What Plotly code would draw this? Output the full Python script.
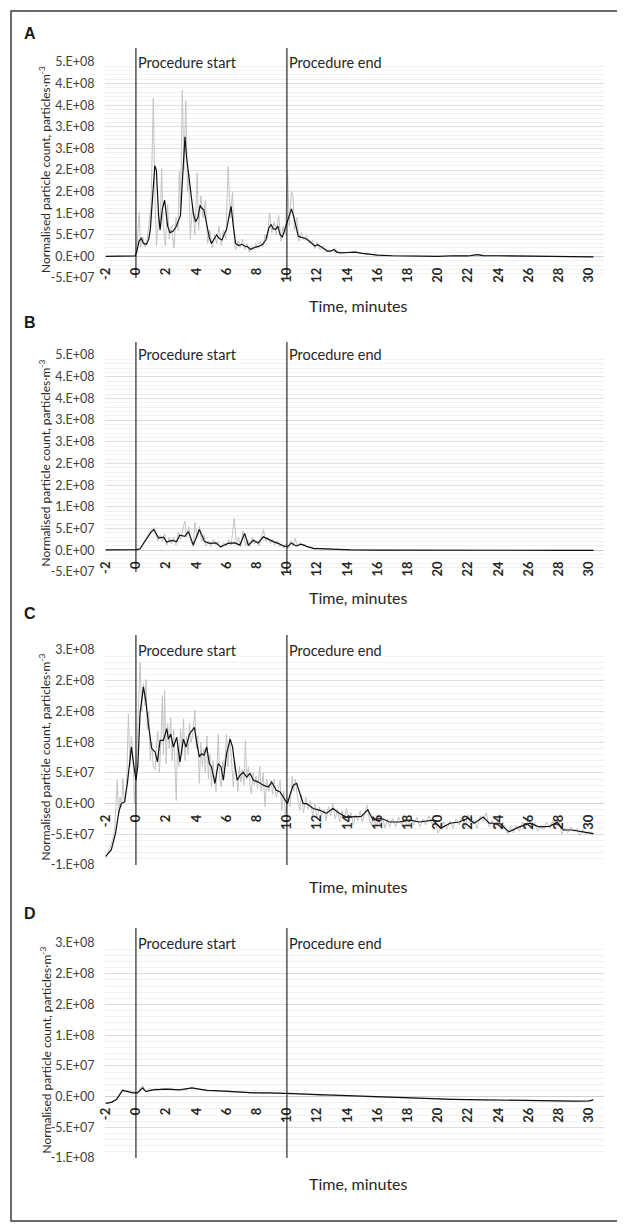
import plotly.graph_objects as go

# ---------------- data (values in millions of particles per m^3) ----------------
x_ticks = list(range(-2, 31, 2))
x_ticklabels = [str(v) for v in x_ticks]

y_ticks_ab = [-50, 0, 50, 100, 150, 200, 250, 300, 350, 400, 450]
y_ticklabels_ab = ["-5.E+07", "0.E+00", "5.E+07", "1.E+08", "2.E+08", "2.E+08",
                   "3.E+08", "3.E+08", "4.E+08", "4.E+08", "5.E+08"]
y_ticks_cd = [-100, -50, 0, 50, 100, 150, 200, 250]
y_ticklabels_cd = ["-1.E+08", "-5.E+07", "0.E+00", "5.E+07", "1.E+08", "2.E+08",
                   "2.E+08", "3.E+08"]

procedure_times = [0, 10]
procedure_labels = ["Procedure start", "Procedure end"]
panel_letters = ["A", "B", "C", "D"]

# Panel A raw (grey)
a_raw_t = [-2, -1, -0.05, 0.05, 0.15, 0.22, 0.3, 0.45, 0.6, 0.75, 0.9, 1.0, 1.15, 1.25, 1.36, 1.5, 1.6, 1.7,
           1.8, 1.95, 2.1, 2.2, 2.35, 2.52, 2.65, 2.8, 2.87, 2.95, 3.07, 3.18, 3.3, 3.42, 3.5, 3.6, 3.75,
           3.9, 4.06, 4.15, 4.3, 4.45, 4.6, 4.75, 4.9, 5.05, 5.2, 5.35, 5.5, 5.65, 5.8, 5.95, 6.11, 6.25,
           6.4, 6.5, 6.6, 6.75, 6.9, 7.05, 7.2, 7.35, 7.5, 7.65, 7.8, 7.95, 8.1, 8.25, 8.4, 8.55, 8.7,
           8.85, 9.0, 9.15, 9.3, 9.45, 9.6, 9.75, 9.9, 10.04, 10.15, 10.3, 10.4, 10.5, 10.65, 10.8, 10.95,
           11.1, 11.3, 11.5, 11.7, 11.85, 12.0, 12.2, 12.4, 12.6, 12.8, 13.0, 13.2, 13.4, 13.7, 14.0,
           14.5, 15.0, 15.5, 16, 17, 18, 19, 20, 21, 22, 22.6, 23, 24, 25, 26, 27, 28, 29, 30, 30.3]
a_raw = [0, 0, 0, 15, 60, 102, 20, 45, 22, 40, 85, 120, 366, 150, 24, 90, 60, 203,
         80, 24, 120, 40, 70, 20, 90, 60, 196, 110, 385, 200, 360, 150, 190, 40, 120,
         50, 194, 60, 140, 90, 130, 30, 60, 20, 50, 30, 70, 25, 60, 40, 208, 90,
         150, 40, 15, 35, 20, 40, 15, 30, 10, 25, 15, 30, 18, 35, 22, 50, 40,
         100, 55, 80, 50, 95, 35, 70, 50, 200, 70, 150, 140, 60, 90, 35, 55,
         38, 48, 30, 38, 18, 32, 15, 25, 10, 15, 12, 18, 8, 10, 8,
         11, 7, 5, 3, 1.5, 0.5, 0, 0, 1.5, 1, 4.5, 2, 1.5, 1, 1, 0.5, 0, -0.5, -1, -1]

# Panel A moving average (black)
a_avg_t = [-2, -1, -0.05, 0.05, 0.2, 0.35, 0.5, 0.7, 0.85, 0.95, 1.1, 1.25, 1.35, 1.5, 1.6, 1.75, 1.9,
           2.0, 2.1, 2.25, 2.45, 2.65, 2.8, 2.95, 3.1, 3.25, 3.35, 3.5, 3.65, 3.8, 3.95, 4.1, 4.25,
           4.35, 4.5, 4.65, 4.85, 5.0, 5.15, 5.35, 5.5, 5.7, 5.85, 6.0, 6.15, 6.3, 6.45, 6.6, 6.8,
           7.0, 7.2, 7.4, 7.6, 7.8, 8.0, 8.2, 8.4, 8.6, 8.8, 8.95, 9.1, 9.25, 9.4, 9.55, 9.7, 9.85,
           10.0, 10.15, 10.3, 10.45, 10.6, 10.75, 10.95, 11.2, 11.45, 11.65, 11.85, 12.05, 12.25,
           12.5, 12.7, 12.9, 13.1, 13.3, 13.6, 14.0, 14.5, 15.0, 15.5, 16.0, 17.0, 18, 19, 20, 21,
           22, 22.6, 23, 24, 25, 26, 27, 28, 29, 30, 30.3]
a_avg = [0, 0, 1, 10, 35, 42, 30, 28, 40, 62, 150, 210, 200, 95, 62, 110, 130,
         100, 70, 55, 58, 68, 80, 95, 190, 277, 230, 190, 140, 100, 80, 90, 118,
         112, 108, 80, 45, 30, 38, 50, 42, 38, 52, 62, 90, 116, 70, 30, 25,
         28, 24, 22, 16, 20, 22, 24, 28, 38, 65, 74, 64, 62, 70, 50, 45, 62,
         78, 95, 110, 92, 70, 47, 44, 42, 36, 30, 24, 27, 22,
         15, 12, 12, 16, 10, 8, 9, 10, 7, 5, 3, 1.5, 0.5, 0, 0, 1.5,
         1, 4, 2, 1.5, 1, 1, 0.5, 0, -0.5, -1, -1]

# Panel B raw (grey)
b_raw_t = [-2, -1, 0, 0.3, 0.6, 0.9, 1.1, 1.3, 1.45, 1.6, 1.75, 1.9, 2.05, 2.2, 2.35, 2.5, 2.65, 2.8,
           2.95, 3.1, 3.24, 3.35, 3.5, 3.65, 3.8, 3.9, 4.05, 4.2, 4.35, 4.5, 4.65, 4.8, 4.95, 5.1,
           5.3, 5.45, 5.6, 5.8, 6.0, 6.15, 6.3, 6.51, 6.65, 6.8, 6.95, 7.1, 7.25, 7.4, 7.55, 7.7,
           7.85, 8.0, 8.15, 8.3, 8.44, 8.6, 8.75, 8.9, 9.05, 9.2, 9.35, 9.5, 9.65, 9.8, 9.95, 10.1,
           10.25, 10.4, 10.55, 10.7, 10.85, 11.0, 11.2, 11.4, 11.6, 11.8, 12.0, 12.3, 12.7, 13.1,
           13.5, 14.2, 15, 16, 18, 20, 22, 24, 26, 28, 30.3]
b_raw = [1, 0.5, 1, 5, 25, 42, 52, 40, 22, 35, 20, 38, 12, 30, 15, 30, 12, 42,
         25, 45, 67, 30, 55, 20, 8, 64, 30, 55, 20, 35, 10, 22, 8, 25,
         12, 20, 5, 18, 10, 25, 12, 73, 15, 30, 8, 45, 10, 25, 8, 30,
         15, 22, 10, 28, 48, 20, 30, 15, 25, 12, 22, 8, 15, 5, 15, 5,
         22, 10, 28, 8, 18, 10, 14, 6, 8, 3, 5, 3, 2, 2.5,
         1, 1.5, 0.5, 0.3, 0, 0, 0, 0, 0, 0, 0]

# Panel B moving average (black)
b_avg_t = [-2, -1, 0, 0.26, 0.7, 1.0, 1.19, 1.5, 1.83, 2.03, 2.37, 2.7, 2.9, 3.24, 3.47, 3.8, 4.2,
           4.55, 4.88, 5.3, 5.6, 6.1, 6.55, 6.88, 7.2, 7.44, 7.77, 8.1, 8.44, 8.77, 9.1, 9.43,
           9.76, 10.03, 10.3, 10.6, 10.95, 11.3, 11.8, 12.2, 13.1, 14.2, 16, 18, 20, 22, 24, 26,
           28, 30.3]
b_avg = [1, 0.5, 1.5, 3, 28, 42, 48, 28, 30, 19, 23, 20, 35, 32, 43, 12, 48,
         20, 16, 17, 8, 16, 17, 12, 39, 12, 23, 17, 31, 25, 20, 16,
         10, 8, 17, 10, 14, 9, 4, 4, 2, 1, 0.3, 0, 0, 0, 0, 0,
         0, 0]

# Panel C raw (grey)
c_raw_t = [-2, -1.85, -1.7, -1.55, -1.4, -1.24, -1.15, -1.05, -0.95, -0.87, -0.75, -0.62, -0.5, -0.4,
           -0.3, -0.2, -0.1, 0.0, 0.1, 0.2, 0.27, 0.38, 0.5, 0.6, 0.67, 0.75, 0.85, 0.95, 1.05, 1.15,
           1.27, 1.35, 1.45, 1.55, 1.65, 1.75, 1.82, 1.9, 2.0, 2.1, 2.2, 2.3, 2.4, 2.5, 2.6, 2.67,
           2.75, 2.85, 2.95, 3.05, 3.15, 3.25, 3.35, 3.45, 3.55, 3.65, 3.75, 3.9, 4.0, 4.1, 4.2,
           4.3, 4.4, 4.5, 4.6, 4.7, 4.8, 4.9, 5.0, 5.1, 5.2, 5.3, 5.45, 5.55, 5.65, 5.75, 5.85,
           6.0, 6.1, 6.2, 6.3, 6.45, 6.55, 6.65, 6.75, 6.85, 6.95, 7.05, 7.15, 7.25, 7.35, 7.45,
           7.55, 7.65, 7.75, 7.85, 7.95, 8.05, 8.2, 8.3, 8.43, 8.55, 8.65, 8.8, 8.95, 9.05, 9.15,
           9.3, 9.45, 9.55, 9.65, 9.8, 9.9, 10.05, 10.2, 10.35, 10.45, 10.55, 10.7, 10.86, 10.95,
           11.1, 11.25, 11.4, 11.55, 11.7, 11.85, 12.0, 12.15, 12.3, 12.45, 12.6, 12.75, 12.9,
           13.05, 13.2, 13.35, 13.5, 13.65, 13.8, 13.95, 14.1, 14.25, 14.4, 14.55, 14.7, 14.85,
           15.0, 15.15, 15.3, 15.45, 15.6, 15.75, 15.9, 16.05, 16.2, 16.35, 16.5, 16.65, 16.8,
           17.0, 17.2, 17.4, 17.6, 17.8, 18.0, 18.2, 18.4, 18.6, 18.8, 19.0, 19.2, 19.4, 19.6,
           19.8, 20.0, 20.2, 20.4, 20.6, 20.8, 21.0, 21.2, 21.4, 21.6, 21.8, 22.0, 22.2, 22.4,
           22.6, 22.8, 23.0, 23.2, 23.4, 23.6, 23.8, 24.0, 24.2, 24.4, 24.6, 24.8, 25.0, 25.2,
           25.4, 25.6, 25.8, 26.0, 26.2, 26.4, 26.6, 26.8, 27.0, 27.2, 27.4, 27.6, 27.8, 28.0,
           28.2, 28.4, 28.6, 28.8, 29.0, 29.2, 29.4, 29.6, 29.8, 30.0, 30.2, 30.3]
c_raw = [-88, -80, -70, -60, -40, 38, -20, 10, -5, 41, 0, 30, 146, 60,
         110, 80, 0, 40, 120, 180, 230, 150, 195, 160, 202, 120, 150, 70, 100, 60,
         55, 90, 118, 50, 100, 176, 80, 184, 65, 130, 90, 140, 70, 120, 60, 5,
         100, 60, 122, 80, 138, 70, 110, 80, 130, 100, 110, 152, 90, 110, 33,
         100, 60, 90, 50, 110, 40, 80, 27, 70, 40, 20, 113, 40, 27, 70, 50,
         113, 60, 110, 80, 27, 70, 44, 20, 60, 35, 55, 30, 103, 40, 60,
         30, 16, 50, 30, 45, 25, 60, 20, 50, -5, 40, 20, 38, 15, 40,
         10, 30, 38, -11, 20, -19, 10, -5, 44, 20, 40, 10, -11, 15,
         -15, 10, -10, 5, -20, 0, -25, -5, -20, -10, -28, -5, -20,
         0, -25, -10, -30, -12, -28, -8, -30, -15, -35, -18, -28, -12,
         -30, -15, -2, -25, -35, -20, -38, -22, -35, -25, -40, -25, -38,
         -24, -38, -22, -35, -25, -38, -20, -35, -22, -38, -25, -35, -20, -32,
         -25, -48, -38, -30, -42, -28, -40, -25, -35, -22, -38, -18, -35, -28,
         -40, -20, -30, -15, -38, -28, -40, -25, -42, -35, -50, -38, -48, -35,
         -45, -30, -40, -25, -38, -30, -45, -35, -42, -30, -40, -28, -38, -25,
         -50, -40, -48, -38, -46, -40, -52, -42, -50, -45, -52, -48]

# Panel C moving average (black)
c_avg_t = [-2, -1.63, -1.35, -1.13, -0.97, -0.75, -0.57, -0.4, -0.3, -0.19, 0.0, 0.12, 0.27, 0.49,
           0.65, 0.82, 1.04, 1.27, 1.42, 1.6, 1.82, 2.04, 2.15, 2.3, 2.48, 2.7, 2.92, 3.14, 3.32,
           3.54, 3.69, 3.87, 4.02, 4.2, 4.35, 4.51, 4.69, 4.86, 5.0, 5.23, 5.45, 5.63, 5.79, 6.0,
           6.24, 6.4, 6.56, 6.71, 6.89, 7.1, 7.33, 7.55, 7.78, 8.1, 8.43, 8.77, 8.99, 9.28, 9.55,
           9.76, 10.03, 10.2, 10.42, 10.64, 10.86, 11.08, 11.3, 11.74, 12.19, 12.6, 13.05, 13.49,
           13.93, 14.48, 14.92, 15.36, 15.7, 16.25, 16.8, 17.46, 18.12, 18.78, 19.67, 20.2, 20.8,
           21.4, 22.0, 22.4, 23.0, 23.4, 24.1, 24.7, 25.4, 26.1, 26.7, 27.4, 27.9, 28.3, 28.9,
           29.6, 30.3]
c_avg = [-86, -75, -48, -13, 0, 3, 33, 71, 92, 71, 38, 60, 146, 190,
         168, 130, 90, 84, 68, 103, 103, 122, 105, 113, 92, 108, 68, 105, 92,
         113, 119, 124, 100, 76, 81, 79, 92, 65, 60, 33, 65, 60, 38, 81,
         105, 92, 60, 38, 46, 51, 43, 49, 38, 35, 30, 27, 35, 22, 19,
         11, 0, 14, 30, 33, 16, 0, 0, -8, -11, -16, -8, -16,
         -22, -22, -21, -10, -27, -24, -30, -30, -27, -30, -27, -40, -32,
         -30, -24, -32, -22, -32, -32, -46, -38, -32, -38, -37, -30, -43, -43,
         -46, -49]

# Panel D raw (grey)
d_raw_t = [-2, -1.7, -1.4, -1.2, -1.0, -0.85, -0.7, -0.5, -0.3, -0.15, 0.0, 0.15, 0.3, 0.45, 0.6,
           0.75, 0.9, 1.1, 1.3, 1.5, 1.7, 2.0, 2.3, 2.6, 2.9, 3.2, 3.5, 3.8, 4.1, 4.4, 4.8, 5.2, 5.6,
           6.0, 6.4, 6.8, 7.2, 7.6, 8.0, 8.4, 8.8, 9.2, 9.6, 10.0, 10.4, 10.8, 11.2, 11.6, 12, 13,
           14, 15, 16, 17, 18, 19, 20, 21, 22, 23, 24, 25, 26, 27, 28, 29, 30, 30.3]
d_raw = [-12, -10, -6, -1, 8, 12, 9, 11, 7, 9, 5, 8, 14, 18, 9,
         10, 13, 10, 13, 11, 13, 12, 14, 11, 12, 11, 13, 14, 12, 11, 10, 10, 9,
         10, 8, 8, 7, 6, 7, 5, 6, 5, 6, 5, 6, 4, 4, 3, 2, 1,
         1, 0, -1, -1, -2, -3, -4, -5, -5, -6, -6, -6, -6, -7, -7, -8, -8, -6]

# Panel D moving average (black)
d_avg_t = [-2, -1.6, -1.3, -1.1, -0.88, -0.55, -0.22, 0.1, 0.44, 0.66, 1.1, 1.99, 2.9, 3.7, 4.7,
           5.8, 6.45, 7.8, 8.9, 10.0, 11.5, 13, 14, 15, 16, 17, 18, 19, 20, 21, 22, 23, 24, 25,
           26, 27, 28, 29, 30, 30.3]
d_avg = [-11, -9, -5, 3, 10, 8, 6, 6, 14, 8, 11, 12, 11, 14, 10,
         9, 8, 6, 6, 5, 3, 1.5, 1, 0, -1, -1.5, -2, -3, -4, -4.5, -5, -5.5, -6, -6,
         -6.5, -7, -7.5, -7.5, -7, -5.5]

panels = [
    (a_raw_t, a_raw, a_avg_t, a_avg, y_ticks_ab, y_ticklabels_ab),
    (b_raw_t, b_raw, b_avg_t, b_avg, y_ticks_ab, y_ticklabels_ab),
    (c_raw_t, c_raw, c_avg_t, c_avg, y_ticks_cd, y_ticklabels_cd),
    (d_raw_t, d_raw, d_avg_t, d_avg, y_ticks_cd, y_ticklabels_cd),
]

# ---------------- layout geometry (page pixels) ----------------
OFF = 8                      # default page body margin
W, H = 625 - OFF, 1226 - OFF


def px(p):
    return (p - OFF) / W


def py(p):
    return 1 - (p - OFF) / H


plot_left, plot_right = 105, 604
plot_top_px = [62, 355, 650, 943]
plot_bot_px = [278, 572, 865, 1158]
vline_top_px = [48, 342, 635, 928]
xtitle_px = [305, 597, 887, 1183]
letter_px = [34, 323, 614, 913]

FONT = "Lato, 'Open Sans', sans-serif"
TXT = "#262626"

fig = go.Figure()
layout = dict(
    width=W, height=H, margin=dict(l=0, r=0, t=0, b=0, autoexpand=False),
    paper_bgcolor="white", plot_bgcolor="white", showlegend=False,
    font=dict(family=FONT, color=TXT),
)
shapes, annotations = [], []

for i, (rt, rv, at, av, yt, ytl) in enumerate(panels):
    n = "" if i == 0 else str(i + 1)
    xa, ya = "x" + n, "y" + n
    d0 = py(plot_bot_px[i])
    d1 = py(plot_top_px[i])
    ymin, ymax = yt[0], yt[-1]
    zero_pos = d0 + (0 - ymin) / (ymax - ymin) * (d1 - d0)

    fig.add_trace(go.Scatter(x=rt, y=rv, mode="lines", xaxis=xa, yaxis=ya,
                             line=dict(color="#c4c4c4", width=1)))
    fig.add_trace(go.Scatter(x=at, y=av, mode="lines", xaxis=xa, yaxis=ya,
                             line=dict(color="#111111", width=1.2)))

    layout["xaxis" + n] = dict(
        domain=[px(plot_left), px(plot_right)], range=[-2.05, 31.0], automargin=False,
        anchor="free", position=zero_pos, showgrid=False, zeroline=False, showline=False,
        tickmode="array", tickvals=x_ticks, ticktext=x_ticklabels, tickangle=-90,
        ticks="outside", ticklen=5, tickcolor="rgba(0,0,0,0)",
        tickfont=dict(family=FONT, size=13, color=TXT, weight="bold"),
    )
    layout["yaxis" + n] = dict(
        domain=[d0, d1], range=[ymin, ymax], anchor=xa, automargin=False,
        tickmode="array", tickvals=yt, ticktext=ytl,
        showgrid=True, gridcolor="#dedede", gridwidth=1,
        minor=dict(dtick=10, showgrid=True, gridcolor="#f1f1f1", gridwidth=1),
        zeroline=True, zerolinecolor="#d0d0d0", zerolinewidth=1, showline=False,
        ticks="outside", ticklen=7, tickcolor="rgba(0,0,0,0)",
        tickfont=dict(family=FONT, size=12.5, color="#404040"),
    )

    vtop = (plot_bot_px[i] - vline_top_px[i]) / (plot_bot_px[i] - plot_top_px[i])
    for t, lab in zip(procedure_times, procedure_labels):
        shapes.append(dict(type="line", xref=xa, yref=ya + " domain", x0=t, x1=t, y0=0, y1=vtop,
                           line=dict(color="black", width=1), layer="above"))
        annotations.append(dict(xref=xa, yref=ya, x=t, y=ymax, text=lab, showarrow=False,
                                xanchor="left", yanchor="middle", xshift=1,
                                bgcolor="white", borderpad=0,
                                font=dict(family=FONT, size=14.5, color=TXT)))

    annotations.append(dict(xref="paper", yref="paper", x=px(45), y=(d0 + d1) / 2,
                            text="Normalised particle count, particles·m<sup>-3</sup>",
                            textangle=-90, showarrow=False, xanchor="center", yanchor="middle",
                            font=dict(family=FONT, size=12, color=TXT)))
    annotations.append(dict(xref="paper", yref="paper", x=px(358), y=py(xtitle_px[i]),
                            text="Time, minutes", showarrow=False,
                            xanchor="center", yanchor="middle",
                            font=dict(family=FONT, size=16, color=TXT)))
    annotations.append(dict(xref="paper", yref="paper", x=px(22), y=py(letter_px[i]),
                            text="<b>" + panel_letters[i] + "</b>", showarrow=False,
                            xanchor="left", yanchor="middle",
                            font=dict(family="Liberation Sans, Arial, sans-serif", size=16,
                                      color="#1a1a1a")))

# outer frame
shapes.append(dict(type="rect", xref="paper", yref="paper", x0=px(11), x1=px(622),
                   y0=py(1221), y1=py(11), line=dict(color="#3a3a3a", width=1.5)))

layout["shapes"] = shapes
layout["annotations"] = annotations
fig.update_layout(**layout)
fig.write_html("out.html")
